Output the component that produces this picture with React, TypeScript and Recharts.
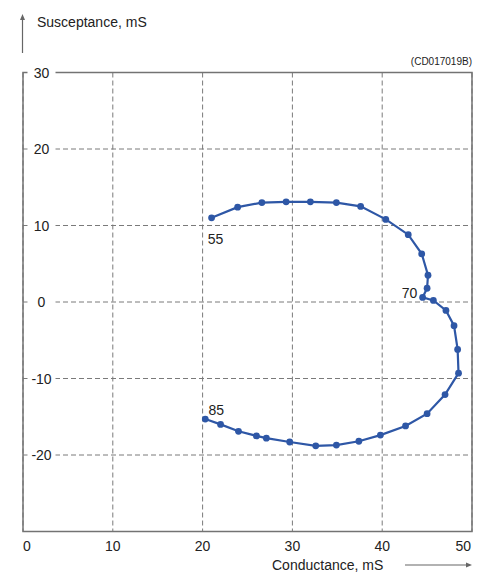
import React from 'react';
import { ScatterChart, Scatter, XAxis, YAxis, CartesianGrid, ReferenceArea, ReferenceDot } from 'recharts';

const conductance = [21.0, 23.9, 26.6, 29.3, 32.0, 34.9, 37.6, 40.4, 42.9, 44.4, 45.1, 45.0, 44.5, 45.7, 47.1, 48.0, 48.4, 48.5, 47.0, 45.0, 42.6, 39.8, 37.4, 34.9, 32.6, 29.7, 27.1, 26.0, 24.0, 22.0, 20.3];
const susceptance = [11.0, 12.4, 13.0, 13.1, 13.1, 13.0, 12.5, 10.8, 8.8, 6.3, 3.5, 1.8, 0.6, 0.2, -1.1, -3.1, -6.2, -9.3, -12.1, -14.6, -16.2, -17.4, -18.2, -18.7, -18.8, -18.3, -17.8, -17.5, -16.9, -16.0, -15.3];
const xTicks = [0, 10, 20, 30, 40, 50];
const yTicks = [-30, -20, -10, 0, 10, 20, 30];
const pointTagIndex = [0, 12, 30];
const pointTagText = ['55', '70', '85'];
const tagOffsets = [[4, 21], [-13, -4], [11, -9]];

const data = conductance.map((g, i) => ({ g, b: susceptance[i] }));

const BLUE = '#2e57a6';
const GRID = '#7a7a7a';
const BORDER = '#737373';
const TEXT = '#222';
const FONT = '"Liberation Sans", Arial, sans-serif';

const renderXTick = (props: any) => {
  const { x, y, payload, index } = props;
  const last = xTicks.length - 1;
  const anchor = index === 0 ? 'start' : index === last ? 'end' : 'middle';
  const xx = index === last ? x - 1 : x;
  return (
    <text key={'x' + index} x={xx} y={y + 14} textAnchor={anchor} dominantBaseline="central" fontSize={14} fill={TEXT} fontFamily={FONT}>
      {payload.value}
    </text>
  );
};

const renderYTick = (props: any) => {
  const { x, y, payload, index } = props;
  const cx = x + 18.5;
  if (payload.value === -30) return <g key={'y' + index} />;
  return (
    <g key={'y' + index}>
      <rect x={cx - 14} y={y - 8} width={28} height={16} fill="#fff" />
      <text x={cx} y={y} textAnchor="middle" dominantBaseline="central" fontSize={14} fill={TEXT} fontFamily={FONT}>
        {payload.value}
      </text>
    </g>
  );
};

const Dot = (props: any) => <circle cx={props.cx} cy={props.cy} r={3.4} fill={BLUE} />;

export default function App() {
  return (
    <div style={{ position: 'absolute', left: 0, top: 0, width: 484, height: 572, background: '#fff' }}>
      <ScatterChart width={484} height={572} margin={{ top: 72.5, right: 12, bottom: 39.5, left: 22 }}>
        <CartesianGrid stroke={GRID} strokeDasharray="5 3" />
        <ReferenceArea x1={0} x2={50} y1={-30} y2={30} fill="none" stroke={BORDER} strokeWidth={1.5} ifOverflow="visible" />
        <XAxis type="number" dataKey="g" domain={[0, 50]} ticks={xTicks} axisLine={false} tickLine={false} tickSize={0} tickMargin={0} height={1} tick={renderXTick} interval={0} allowDataOverflow />
        <YAxis type="number" dataKey="b" domain={[-30, 30]} ticks={yTicks} axisLine={false} tickLine={false} tickSize={0} tickMargin={0} width={1} tick={renderYTick} interval={0} allowDataOverflow />
        <Scatter data={data} line={{ stroke: BLUE, strokeWidth: 2.2 }} lineType="joint" shape={<Dot />} isAnimationActive={false} />
        {pointTagIndex.map((idx, k) => (
          <ReferenceDot
            key={k}
            x={conductance[idx]}
            y={susceptance[idx]}
            r={0}
            ifOverflow="visible"
            shape={(p: any) => (
              <text x={p.cx + tagOffsets[k][0]} y={p.cy + tagOffsets[k][1]} textAnchor="middle" dominantBaseline="central" fontSize={14} fill={TEXT} fontFamily={FONT}>
                {pointTagText[k]}
              </text>
            )}
          />
        ))}
      </ScatterChart>
      <svg width={484} height={572} style={{ position: 'absolute', left: 0, top: 0, pointerEvents: 'none' }}>
        <line x1={22.5} y1={53} x2={22.5} y2={19} stroke="#666" strokeWidth={1.2} />
        <path d="M22.5 14 L20 20 L25 20 Z" fill="#666" />
        <text x={37} y={26.5} fontSize={14} fill={TEXT} fontFamily={FONT}>Susceptance, mS</text>
        <text x={472} y={64.5} textAnchor="end" fontSize={10} fill={TEXT} fontFamily={FONT}>(CD017019B)</text>
        <text x={272} y={570} fontSize={14} fill={TEXT} fontFamily={FONT}>Conductance, mS</text>
        <line x1={405} y1={565} x2={467} y2={565} stroke="#666" strokeWidth={1.2} />
        <path d="M472 565 L466 562.5 L466 567.5 Z" fill="#666" />
      </svg>
    </div>
  );
}
